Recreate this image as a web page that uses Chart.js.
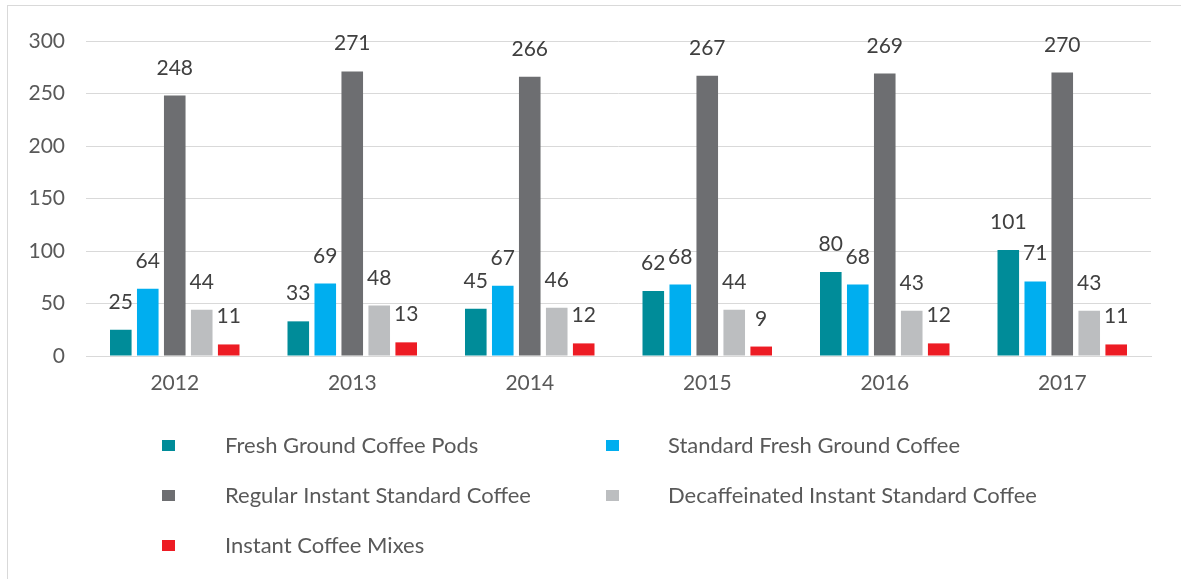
<!DOCTYPE html>
<html>
<head>
<meta charset="utf-8">
<script src="https://cdn.jsdelivr.net/npm/chart.js@4.4.1/dist/chart.umd.min.js"></script>
<style>
  html, body { margin: 0; padding: 0; background: #fff; }
  body { width: 1181px; height: 579px; position: relative; overflow: hidden; }
  #frame { position: absolute; left: 7px; top: 5px; width: 1200px; height: 600px; border: 1px solid #d9d9d9; box-sizing: border-box; }
  #wrap { position: absolute; left: 0; top: 0; width: 1181px; height: 579px; }
</style>
</head>
<body>
<div id="frame"></div>
<div id="wrap"><canvas id="c" width="1181" height="579"></canvas></div>
<script>
const years = ['2012', '2013', '2014', '2015', '2016', '2017'];
const seriesNames = [
  'Fresh Ground Coffee Pods',
  'Standard Fresh Ground Coffee',
  'Regular Instant Standard Coffee',
  'Decaffeinated Instant Standard Coffee',
  'Instant Coffee Mixes'
];
const freshGroundPods = [25, 33, 45, 62, 80, 101];
const standardFreshGround = [64, 69, 67, 68, 68, 71];
const regularInstant = [248, 271, 266, 267, 269, 270];
const decafInstant = [44, 48, 46, 44, 43, 43];
const instantMixes = [11, 13, 12, 9, 12, 11];
const yTicks = [0, 50, 100, 150, 200, 250, 300];

const colors = ['#008C99', '#00AEEF', '#6D6E71', '#BCBEC0', '#ED1C24'];
const seriesValues = [freshGroundPods, standardFreshGround, regularInstant, decafInstant, instantMixes];

const FONT = 'Lato, "Open Sans", sans-serif';

const dataLabels = {
  id: 'dataLabels',
  afterDatasetsDraw(chart) {
    const ctx = chart.ctx;
    ctx.save();
    ctx.font = '21px ' + FONT;
    ctx.fillStyle = '#404040';
    ctx.textAlign = 'center';
    ctx.textBaseline = 'alphabetic';
    chart.data.datasets.forEach((ds, i) => {
      const meta = chart.getDatasetMeta(i);
      meta.data.forEach((bar, j) => {
        ctx.fillText(String(ds.data[j]), bar.x, bar.y - 21);
      });
    });
    ctx.restore();
  }
};

const customLegend = {
  id: 'customLegend',
  afterDraw(chart) {
    const ctx = chart.ctx;
    ctx.save();
    ctx.font = '22px ' + FONT;
    ctx.textBaseline = 'middle';
    ctx.textAlign = 'left';
    const colX = [162, 606];
    const textX = [225, 668];
    const rowY = [445, 495, 545];
    chart.data.datasets.forEach((ds, i) => {
      const col = i % 2, row = Math.floor(i / 2);
      ctx.fillStyle = ds.backgroundColor;
      ctx.fillRect(colX[col], rowY[row] - 5, 13, 11);
      ctx.fillStyle = '#595959';
      ctx.fillText(ds.label, textX[col], rowY[row] + 1);
    });
    ctx.restore();
  }
};

new Chart(document.getElementById('c'), {
  type: 'bar',
  data: {
    labels: years,
    datasets: seriesNames.map((name, i) => ({
      label: name,
      data: seriesValues[i],
      backgroundColor: colors[i],
      borderWidth: 0,
      categoryPercentage: 0.76,
      barPercentage: 0.8
    }))
  },
  options: {
    responsive: false,
    animation: false,
    devicePixelRatio: 1,
    layout: { padding: { left: 0, top: 41, right: 30, bottom: 183 } },
    plugins: { legend: { display: false }, tooltip: { enabled: false } },
    scales: {
      x: {
        grid: { display: false, drawTicks: false },
        border: { display: true, color: '#d9d9d9', width: 1 },
        ticks: { color: '#595959', font: { family: FONT, size: 21 }, padding: 15 },
        afterFit(s) { s.height = 40; }
      },
      y: {
        min: 0, max: 300,
        afterBuildTicks(s) { s.ticks = yTicks.map(v => ({ value: v })); },
        grid: { color: '#d9d9d9', lineWidth: 1, drawTicks: false },
        border: { display: false },
        ticks: { color: '#595959', font: { family: FONT, size: 21 }, padding: 21 },
        afterFit(s) { s.width = 86; }
      }
    }
  },
  plugins: [dataLabels, customLegend]
});
</script>
</body>
</html>
